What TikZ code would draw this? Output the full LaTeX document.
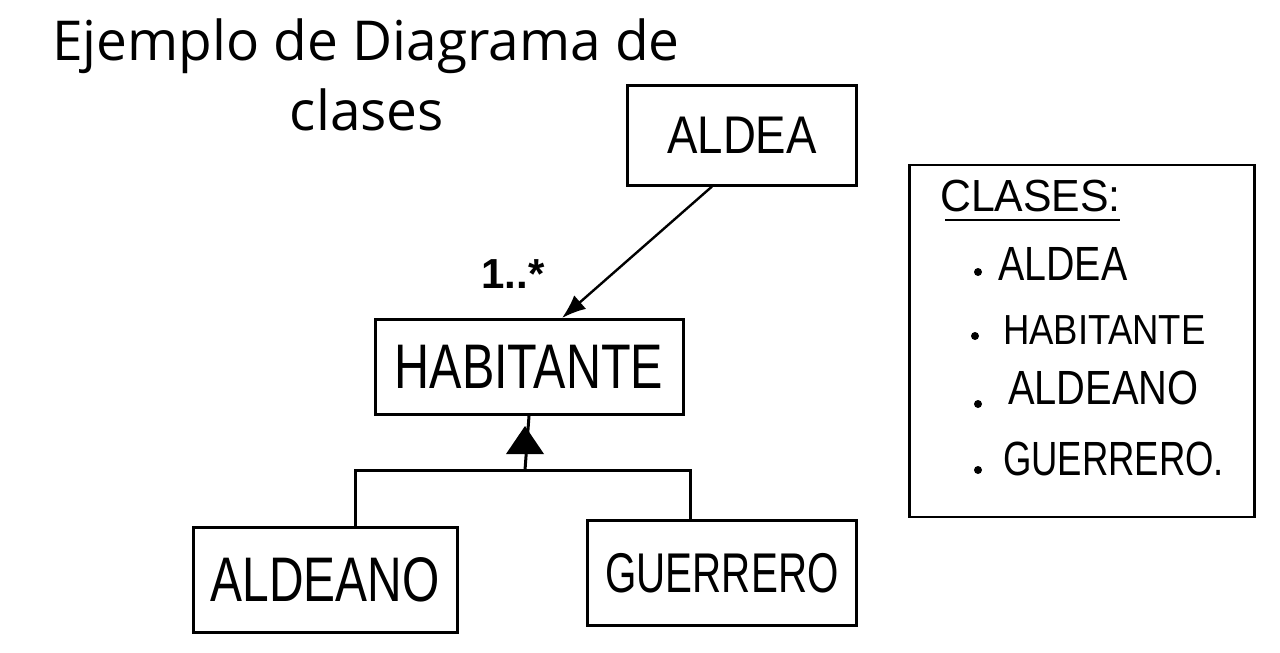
\documentclass[tikz,border=0pt]{standalone}
\usepackage{fontspec}
\setmainfont{Liberation Sans}
\newfontfamily\titlefont{Open Sans}
\usetikzlibrary{arrows.meta,calc}
\newcommand{\hw}[3]{\scalebox{#2}[1]{\fontsize{#1}{#1}\selectfont #3}}
\tikzset{
  classbox/.style={draw=black, line width=3pt, inner sep=0pt, anchor=center},
  conn/.style={draw=black, line width=3pt},
  assoc/.style={draw=black, line width=2.4pt, -{Latex[length=24pt,width=18pt]}},
  bulletdot/.style={circle, fill=black, inner sep=0pt, minimum size=8pt},
  legendtext/.style={anchor=west, inner sep=0pt}
}
\begin{document}
\begin{tikzpicture}[x=1pt,y=-1pt]
\useasboundingbox[fill=white] (0,0) rectangle (1280,653);
% title
\node[anchor=center] (title1) at (366,46) {\titlefont\fontsize{55pt}{55pt}\selectfont Ejemplo de Diagrama de};
\node[anchor=center] (title2) at (367,110) {\titlefont\fontsize{55pt}{55pt}\selectfont clases};
% classes
\node[classbox, minimum width=229pt, minimum height=100pt] (aldea) at (742,135) {\hw{53pt}{0.86}{ALDEA}};
\node[classbox, minimum width=308pt, minimum height=95pt] (habit) at (529,367) {\hw{63pt}{0.77}{HABITANTE}};
\node[classbox, minimum width=264pt, minimum height=105pt] (aldeano) at (325,580) {\hw{63pt}{0.76}{ALDEANO}};
\node[classbox, minimum width=269pt, minimum height=105pt] (guerrero) at (722,573) {\hw{56pt}{0.72}{GUERRERO}};
% association
\draw[assoc] ([xshift=-30pt]aldea.south) -- ([xshift=33pt]habit.north);
\node[anchor=center] (mult) at (513,274) {\fontsize{42pt}{42pt}\selectfont\bfseries 1..*};
% inheritance
\coordinate (j) at (525,470);
\draw[conn] (habit.south) -- (j);
\fill[black] (525,426) -- (544,454) -- (506,454) -- cycle;
\draw[conn] (j) -| ([xshift=30pt]aldeano.north);
\draw[conn] (j) -| ([xshift=-32pt]guerrero.north);
% legend
\node[draw=black, line width=2.4pt, minimum width=345pt, minimum height=352pt, inner sep=0pt] (legend) at (1082,341) {};
\node[legendtext] (lhead) at (940,196) {\hw{45pt}{0.95}{CLASES:}};
\draw[line width=2.4pt] (945,220) -- (1120,220);
\node[bulletdot] (b1) at (978,272) {};
\node[legendtext] (l1) at (998,264) {\hw{48pt}{0.82}{ALDEA}};
\node[bulletdot] (b2) at (975,336) {};
\node[legendtext] (l2) at (1003,330) {\hw{42pt}{0.87}{HABITANTE}};
\node[bulletdot] (b3) at (978,404) {};
\node[legendtext] (l3) at (1008,388) {\hw{48pt}{0.83}{ALDEANO}};
\node[bulletdot] (b4) at (978,470) {};
\node[legendtext] (l4) at (1003,459) {\hw{48pt}{0.76}{GUERRERO.}};
\end{tikzpicture}
\end{document}
